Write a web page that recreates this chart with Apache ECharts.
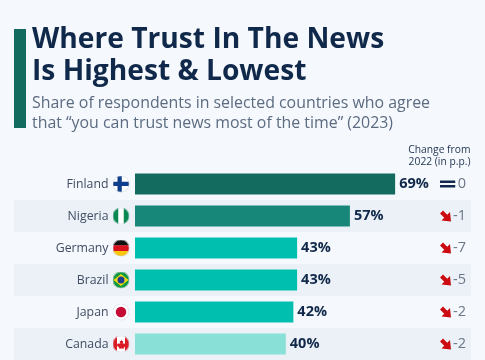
<!DOCTYPE html>
<html><head><meta charset="utf-8">
<style>html,body{margin:0;padding:0;background:#f5f8fc;overflow:hidden}#c{width:485px;height:360px}</style>
<script src="https://cdn.jsdelivr.net/npm/echarts@6/dist/echarts.min.js"></script>
</head><body><div id="c"></div>
<script>
const countries = ['Finland','Nigeria','Germany','Brazil','Japan','Canada'];
const trust = [69,57,43,43,42,40];
const change = [0,-1,-7,-5,-2,-2];
const barColors = ['#126b5e','#17877a','#00bfae','#00bfae','#00bfae','#88e0d6'];
const titleLines = ['Where Trust In The News','Is Highest & Lowest'];
const subtitleLines = ['Share of respondents in selected countries who agree','that “you can trust news most of the time” (2023)'];
const changeHeader = ['Change from','2022 (in p.p.)'];

const FONT = '"Open Sans", sans-serif';
const LABEL_FONT = 'Open Sans';
const NAVY = '#10294a';
// pixel → value scale: 0% sits at x=135, 3.77px per point; band spans x=14..471
const PX = 3.77, val = px => (px - 135) / PX;

const flagSvg = {
  Finland: '<rect width="34" height="34" fill="#fff"/><rect x="10" width="8.500" height="34" fill="#0f3f8c"/><rect y="12.500" width="34" height="8.500" fill="#0f3f8c"/>',
  Nigeria: '<rect width="34" height="34" fill="#fff"/><rect width="11.500" height="34" fill="#0a8a52"/><rect x="22.500" width="11.500" height="34" fill="#0a8a52"/>',
  Germany: '<rect width="34" height="12" fill="#111"/><rect y="11.500" width="34" height="11.500" fill="#d8121f"/><rect y="23" width="34" height="11" fill="#f9c80e"/>',
  Brazil: '<rect width="34" height="34" fill="#0f9a3f"/><path d="M17 5 32 17 17 29 2 17z" fill="#f6d80f"/><circle cx="17" cy="17" r="7" fill="#1b3f8f"/>',
  Japan: '<rect width="34" height="34" fill="#fff"/><circle cx="17" cy="17" r="10.500" fill="#c40a35"/>',
  Canada: '<rect width="34" height="34" fill="#fff"/><rect width="9" height="34" fill="#dc1c24"/><rect x="25" width="9" height="34" fill="#dc1c24"/><path d="M17 7l2 4.500 2.500-1-1 6.500 3-2 .8 2 3-.5-1 3 1 1-5 4 .5 2-4.800-.6-4.800.6.5-2-5-4 1-1-1-3 3 .5.8-2 3 2-1-6.500 2.500 1z" fill="#dc1c24"/>'
};
const uri = s => 'image://data:image/svg+xml;charset=utf-8,' + encodeURIComponent(s);
const flag = n => uri('<svg xmlns="http://www.w3.org/2000/svg" width="68" height="68" viewBox="0 0 34 34"><clipPath id="a"><circle cx="17" cy="17" r="17"/></clipPath><g clip-path="url(#a)">' + flagSvg[n] + '</g><circle cx="17" cy="17" r="16.300" fill="none" stroke="#d3d9e2" stroke-width="1.400"/></svg>');
const arrow = uri('<svg xmlns="http://www.w3.org/2000/svg" width="48" height="48" viewBox="0 0 24 24"><path d="M1 7 7 1 15.500 9.500 21 4 23 23 4 21 9.500 15.500z" fill="#cc0a12"/></svg>');
const equal = uri('<svg xmlns="http://www.w3.org/2000/svg" width="64" height="36" viewBox="0 0 32 18"><rect x="0" y="1" width="32" height="6" rx="1" fill="' + NAVY + '"/><rect x="0" y="11" width="32" height="6" rx="1" fill="' + NAVY + '"/></svg>');

const text = (t, x, y, font, fill, align) => ({type:'text', style:{text:t, x, y, font, fill, align:align||'left', verticalAlign:'middle'}});

const chart = echarts.init(document.getElementById('c'), null, {renderer:'canvas'});
chart.setOption({
  animation:false,
  backgroundColor:'#f5f8fc',
  graphic:{elements:[
    {type:'rect', shape:{x:14,y:29,width:12,height:99}, style:{fill:'#126b5e'}},
    text(titleLines[0],32,40,'700 28.2px '+FONT,NAVY),
    text(titleLines[1],32,72,'700 28.2px '+FONT,NAVY),
    text(subtitleLines[0],32,103.500,'400 15.9px '+FONT,'#5b6b80'),
    text(subtitleLines[1],32,123,'400 15.9px '+FONT,'#5b6b80'),
    text(changeHeader[0],470.500,150,'400 10.300px '+FONT,'#1f3350','right'),
    text(changeHeader[1],470.500,162.500,'400 10.300px '+FONT,'#1f3350','right')
  ]},
  grid:{left:14, width:457, top:168, height:198},
  xAxis:{type:'value', min:val(14), max:val(471), show:false, splitLine:{show:false}},
  yAxis:{type:'category', inverse:true, data:countries,
    axisLine:{show:false}, axisTick:{show:false}, axisLabel:{show:false},
    splitLine:{show:false},
    splitArea:{show:true, interval:0, areaStyle:{color:['rgba(0,0,0,0)','#ecf1f7']}}},
  series:[
    {type:'bar', barWidth:21, silent:true,
     data:trust.map((v,i)=>({value:v, itemStyle:{color:barColors[i]}})),
     label:{show:true, position:'right', distance:4, formatter:'{c}%',
            fontFamily:LABEL_FONT, fontWeight:700, fontSize:14.5, color:NAVY}},
    {type:'scatter', silent:true, symbolSize:17, itemStyle:{opacity:1},
     data:countries.map(n=>({value:[val(121),n], symbol:flag(n)})),
     label:{show:true, position:'left', distance:4, formatter:p=>p.data.value[1],
            fontFamily:LABEL_FONT, fontSize:12.3, color:'#3f4d63'}},
    {type:'scatter', silent:true, itemStyle:{opacity:1},
     data:change.map((c,i)=>({value:[val(c===0?447.5:445.5),countries[i]],
        symbol:c===0?equal:arrow, symbolSize:c===0?[16,8]:[12,12]}))},
    {type:'scatter', silent:true, symbolSize:0,
     data:change.map((c,i)=>({value:[val(466),countries[i]], change:c})),
     label:{show:true, position:'left', distance:0, formatter:p=>String(p.data.change),
            fontFamily:LABEL_FONT, fontSize:14.5, color:'#46566c'}}
  ]
});
</script></body></html>
